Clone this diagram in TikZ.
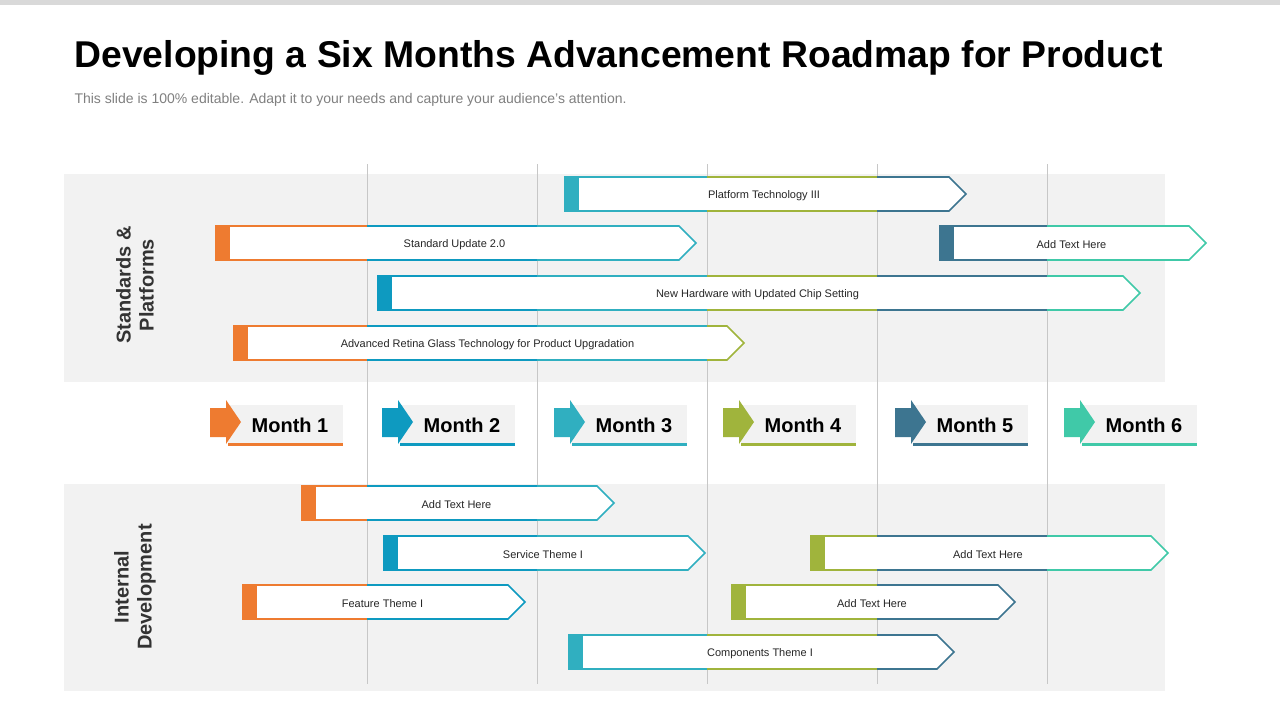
\documentclass[tikz,border=0pt]{standalone}
\usepackage{fontspec}
\setmainfont{Liberation Sans}
\begin{document}
\begin{tikzpicture}[x=1pt,y=-1pt]
\definecolor{cO}{HTML}{EE7B30}
\definecolor{cB}{HTML}{0E9AC0}
\definecolor{cT}{HTML}{30AFC0}
\definecolor{cG}{HTML}{A0B43C}
\definecolor{cS}{HTML}{3D7590}
\definecolor{cM}{HTML}{40C9A8}
\definecolor{panel}{HTML}{F2F2F2}
\tikzset{bartext/.style={font=\fontsize{11}{12}\selectfont,text=black!85},
  monthtext/.style={font=\fontsize{20}{22}\selectfont\bfseries},
  sidelabel/.style={font=\fontsize{20}{23}\selectfont\bfseries,align=center,rotate=90,text=black!80}}
\useasboundingbox (0,0) rectangle (1280,720);
\fill[white] (0,0) rectangle (1280,720);
\fill[black!15] (0,0) rectangle (1280,5);
\node[anchor=west,font=\fontsize{37.3}{40}\selectfont\bfseries] (title) at (71,58) {Developing a Six Months Advancement Roadmap for Product};
\node[anchor=west,font=\fontsize{14}{15}\selectfont,text=black!50] (sub) at (71,100) {This slide is 100\% editable. Adapt it to your needs and capture your audience's attention.};
\fill[panel] (64,174) rectangle (1165,382);
\fill[panel] (64,484) rectangle (1165,691);
\foreach \x in {367,537,707,877,1047} \draw[black!22,line width=0.8] (\x,164) -- (\x,684);
\node[sidelabel] (lab1) at (135,285) {Standards \&\\Platforms};
\node[sidelabel] (lab2) at (135,587) {Internal\\Development};
\newcommand{\rbar}[6]{%
  \fill[white] (#1,#3-17) -- (#2-17,#3-17) -- (#2,#3) -- (#2-17,#3+17) -- (#1,#3+17) -- cycle;
  \foreach \a/\b/\c in {0/367/cO,367/537/cB,537/707/cT,707/877/cG,877/1047/cS,1047/1300/cM}{%
    \begin{scope}
      \clip (\a,#3-25) rectangle (\b,#3+25);
      \draw[\c,line width=1.6,line join=miter] (#1,#3-17) -- (#2-17,#3-17) -- (#2,#3) -- (#2-17,#3+17) -- (#1,#3+17) -- cycle;
    \end{scope}}
  \fill[#4] (#1-0.8,#3-17.8) rectangle (#1+14,#3+17.8);
  \node[bartext] (#6) at ({(#1+14+#2-17)/2},#3+1.5) {#5};
}
\rbar{565}{966}{194}{cT}{Platform Technology III}{b1}
\rbar{216}{696}{243}{cO}{Standard Update 2.0}{b2}
\rbar{940}{1206}{243}{cS}{Add Text Here}{b3}
\rbar{378}{1140}{293}{cB}{New Hardware with Updated Chip Setting}{b4}
\rbar{234}{744}{343}{cO}{Advanced Retina Glass Technology for Product Upgradation}{b5}
\rbar{302}{614}{503}{cO}{Add Text Here}{b6}
\rbar{384}{705}{553}{cB}{Service Theme I}{b7}
\rbar{811}{1168}{553}{cG}{Add Text Here}{b8}
\rbar{243}{525}{602}{cO}{Feature Theme I}{b9}
\rbar{732}{1015}{602}{cG}{Add Text Here}{b10}
\rbar{569}{954}{652}{cT}{Components Theme I}{b11}
\foreach \x/\c/\n in {210/cO/1,382/cB/2,554/cT/3,723/cG/4,895/cS/5,1064/cM/6}{%
  \fill[panel] (\x+18,405) rectangle (\x+133,446);
  \fill[\c] (\x+18,443) rectangle (\x+133,446);
  \fill[\c] (\x,408) -- (\x+16,408) -- (\x+16,400) -- (\x+31,422) -- (\x+16,444) -- (\x+16,437) -- (\x,437) -- cycle;
  \node[monthtext] (m\n) at (\x+80,425) {Month \n};
}
\end{tikzpicture}
\end{document}
